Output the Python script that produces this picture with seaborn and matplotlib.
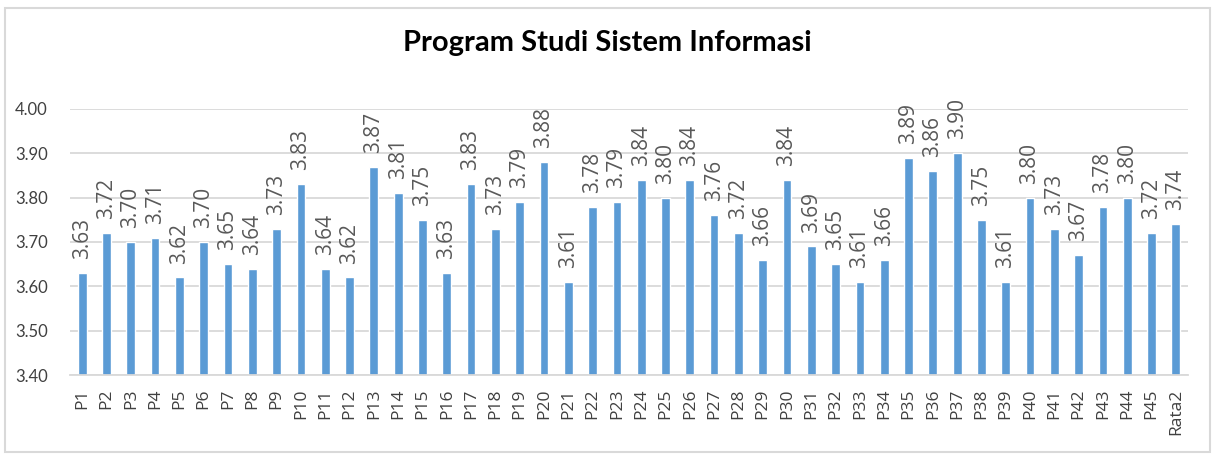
import pandas as pd
import matplotlib.pyplot as plt
import seaborn as sns
from matplotlib.patches import Rectangle

# Data
labels = [f"P{i}" for i in range(1, 46)] + ["Rata2"]
values = [3.63, 3.72, 3.70, 3.71, 3.62, 3.70, 3.65, 3.64, 3.73, 3.83,
          3.64, 3.62, 3.87, 3.81, 3.75, 3.63, 3.83, 3.73, 3.79, 3.88,
          3.61, 3.78, 3.79, 3.84, 3.80, 3.84, 3.76, 3.72, 3.66, 3.84,
          3.69, 3.65, 3.61, 3.66, 3.89, 3.86, 3.90, 3.75, 3.61, 3.80,
          3.73, 3.67, 3.78, 3.80, 3.72, 3.74]
yticks = [3.40, 3.50, 3.60, 3.70, 3.80, 3.90, 4.00]

df = pd.DataFrame({"kode": labels, "nilai": values})

sns.set_style("white")
plt.rcParams["font.family"] = ["Lato", "DejaVu Sans"]

fig = plt.figure(figsize=(12.14, 4.54), dpi=100)
ax = fig.add_axes([0.0577, 0.174, 0.9209, 0.586])

sns.barplot(data=df, x="kode", y="nilai", color="#5B9BD5", width=0.36,
            saturation=1, ax=ax)

ax.set_ylim(3.40, 4.00)
ax.set_yticks(yticks)
ax.set_yticklabels([f"{t:.2f}" for t in yticks], fontsize=12, color="#404040")
ax.set_xlim(-0.5, len(labels) - 0.5)
ax.set_xticks(range(len(labels)))
ax.set_xticklabels(labels, rotation=90, fontsize=12.5, color="#404040",
                   fontfamily=["Open Sans", "DejaVu Sans"])
ax.tick_params(axis="x", length=0, pad=10)
ax.tick_params(axis="y", length=0, pad=16)
ax.grid(axis="y", color="#D9D9D9", linewidth=1.3)
ax.set_axisbelow(True)
for s in ["top", "right", "left"]:
    ax.spines[s].set_visible(False)
ax.spines["bottom"].set_color("#D9D9D9")
ax.spines["bottom"].set_linewidth(1.3)
ax.set_xlabel("")
ax.set_ylabel("")

for c in ax.containers:
    ax.bar_label(c, fmt="%.2f", rotation=90, padding=10, fontsize=15, color="#595959",
                 fontfamily=["Open Sans", "DejaVu Sans"])

fig.suptitle("Program Studi Sistem Informasi", x=0.5, y=0.935, fontsize=21,
             fontweight="bold", color="black")

fig.patches.append(Rectangle((0.004, 0.004), 0.993, 0.978, transform=fig.transFigure,
                             fill=False, edgecolor="#D9D9D9", linewidth=1.5))

fig.savefig("out.png", dpi=100)
